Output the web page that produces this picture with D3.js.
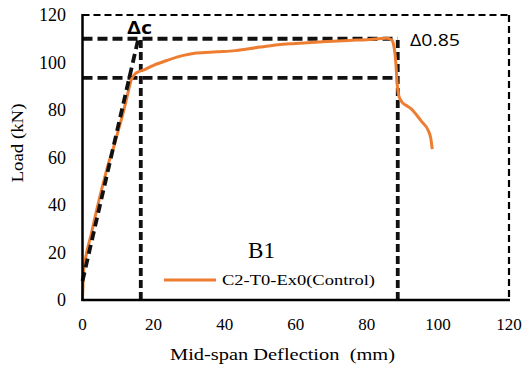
<!DOCTYPE html>
<html><head><meta charset="utf-8">
<script src="https://cdn.jsdelivr.net/npm/d3@7"></script>
<style>body{margin:0;background:#fff}svg{display:block}</style>
</head><body>
<script>
// Data
const deflection = [0,0.1,0.3,0.8,2.5,4,5.8,7.6,8.6,10,11.4,12.6,13.7,15.1,17.5,20,24,28.4,32,37.8,43,49.9,55,60,68.7,75,80,85.6,87,87.6,87.9,88.2,88.4,88.6,89,89.8,91,92.5,94,95.5,97.2,98,98.4];
const load =       [0,5,12,17,28,38,49,59,63.5,71,78.6,86,92.6,95.6,97,98.8,101,103,104,104.5,105,106.5,107.5,108,108.8,109.3,109.6,110.2,109.5,107,104,99,94,90,86,83.5,82,80.5,77.9,75,71.6,68,63.5];
const xTicks = [0,20,40,60,80,100,120];
const yTicks = [0,20,40,60,80,100,120];
const peakLoad = 110, load085 = 93.5, deltaC = 16.4, delta085 = 88.7;
const secantX = [0, 15.7], secantY = [8, 110];
const seriesName = "C2-T0-Ex0(Control)";

const W = 526, H = 373;
const svg = d3.select("body").append("svg").attr("width", W).attr("height", H);
const x = d3.scaleLinear().domain([0,120]).range([82.5,509]);
const y = d3.scaleLinear().domain([0,120]).range([300,15]);
const serif = "'Liberation Serif','Times New Roman',Tinos,serif";
const sans = "'Open Sans','Noto Sans',sans-serif";

// tick labels
svg.append("g").selectAll("text").data(yTicks).join("text")
  .attr("x", 66).attr("y", d => y(d)).attr("dy","0.35em")
  .attr("text-anchor","end").attr("font-family",serif).attr("font-size",18)
  .text(d=>d);
svg.append("g").selectAll("text").data(xTicks).join("text")
  .attr("x", d=>x(d)).attr("y", 324).attr("dy","0.35em")
  .attr("text-anchor","middle").attr("font-family",serif).attr("font-size",17)
  .text(d=>d);

// top & right borders (dashed thin)
const border = svg.append("g").attr("stroke","#000").attr("stroke-width",2.2).attr("stroke-dasharray","7,4").attr("fill","none");
border.append("line").attr("x1",x(0)).attr("x2",x(120)).attr("y1",y(120)).attr("y2",y(120));
border.append("line").attr("x1",x(120)).attr("x2",x(120)).attr("y1",y(120)).attr("y2",y(0));

// guide dashed lines (thick)
const g = svg.append("g").attr("stroke","#111").attr("stroke-width",3.8).attr("stroke-dasharray","10,5").attr("fill","none");
g.append("line").attr("x1",x(0)).attr("x2",x(delta085)).attr("y1",y(peakLoad)).attr("y2",y(peakLoad));
g.append("line").attr("x1",x(0)).attr("x2",x(delta085)).attr("y1",y(load085)).attr("y2",y(load085));
g.append("line").attr("x1",x(deltaC)).attr("x2",x(deltaC)).attr("y1",y(0)).attr("y2",y(peakLoad)).attr("stroke-dasharray","8,4");
g.append("line").attr("x1",x(delta085)).attr("x2",x(delta085)).attr("y1",y(0)).attr("y2",y(peakLoad)).attr("stroke-dasharray","8,4");

// curve
svg.append("path").datum(deflection.map((d,i)=>[d,load[i]]))
  .attr("d", d3.line().x(d=>x(d[0])).y(d=>y(d[1])).curve(d3.curveMonotoneX))
  .attr("fill","none").attr("stroke","#ED7D31").attr("stroke-width",3).attr("stroke-linejoin","round");

// secant dashed
svg.append("line").attr("x1",x(secantX[0])).attr("y1",y(secantY[0])).attr("x2",x(secantX[1])).attr("y2",y(secantY[1]))
  .attr("stroke","#111").attr("stroke-width",3.8).attr("stroke-dasharray","9,5");

// axes (solid)
svg.append("line").attr("x1",x(0)).attr("x2",x(0)).attr("y1",y(120)-1).attr("y2",y(0)+1).attr("stroke","#000").attr("stroke-width",2.5);
svg.append("line").attr("x1",x(0)-1).attr("x2",x(120)+1).attr("y1",y(0)).attr("y2",y(0)).attr("stroke","#000").attr("stroke-width",2.5);

// annotations
svg.append("text").attr("x",127).attr("y",34).attr("font-family",sans).attr("font-weight","bold").attr("font-size",17)
  .attr("textLength",25).attr("lengthAdjust","spacingAndGlyphs").text("Δc");
svg.append("text").attr("x",410).attr("y",46).attr("font-family",sans).attr("font-size",17)
  .attr("textLength",50).attr("lengthAdjust","spacingAndGlyphs").text("Δ0.85");
svg.append("text").attr("x",248).attr("y",258).attr("font-family",serif).attr("font-size",24)
  .attr("textLength",27).attr("lengthAdjust","spacingAndGlyphs").text("B1");

// legend
svg.append("line").attr("x1",164).attr("x2",216).attr("y1",280).attr("y2",280).attr("stroke","#ED7D31").attr("stroke-width",3);
svg.append("text").attr("x",222).attr("y",280).attr("dy","0.35em").attr("font-family",serif).attr("font-size",15)
  .attr("textLength",153).attr("lengthAdjust","spacingAndGlyphs").text(seriesName);

// axis titles
svg.append("text").attr("x",170).attr("y",360).attr("font-family",serif).attr("font-size",17)
  .style("white-space","pre")
  .attr("textLength",225).attr("lengthAdjust","spacingAndGlyphs").text("Mid-span Deflection  (mm)");
svg.append("text").attr("transform","translate(23,143) rotate(-90)").attr("text-anchor","middle")
  .attr("font-family",serif).attr("font-size",16)
  .attr("textLength",79).attr("lengthAdjust","spacingAndGlyphs").text("Load (kN)");
</script>
</body></html>
